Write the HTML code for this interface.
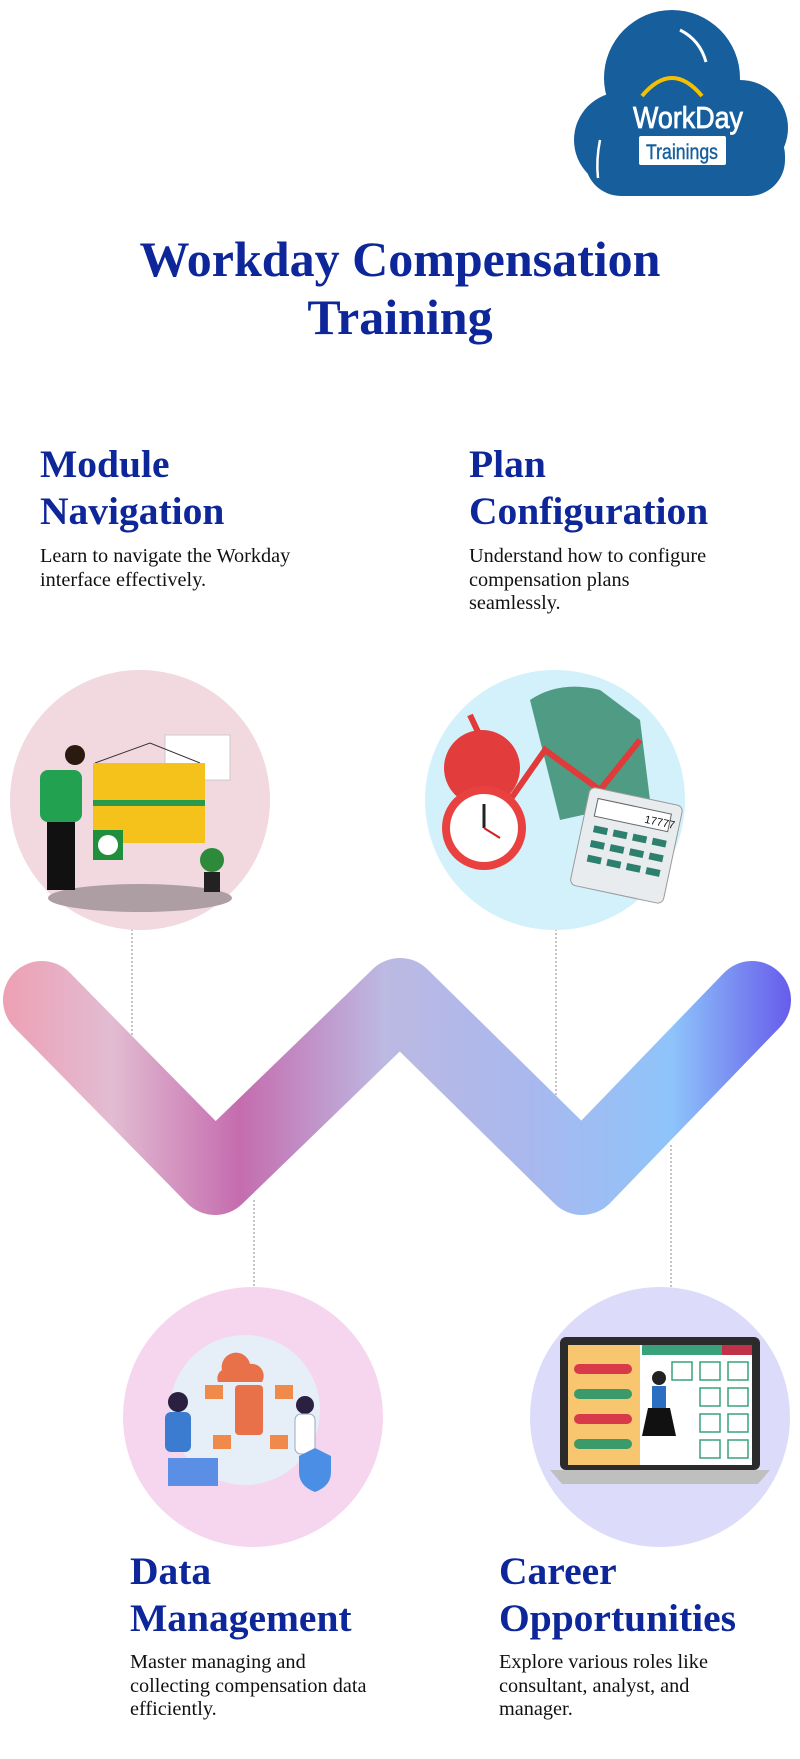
<!DOCTYPE html>
<html><head><meta charset="utf-8">
<style>
html,body{margin:0;padding:0;background:#fff;}
body{width:800px;height:1759px;position:relative;overflow:hidden;font-family:"Liberation Serif",serif;}
.t{position:absolute;color:#0d2699;font-weight:bold;}
.h{font-size:39.5px;line-height:47px;}
.d{position:absolute;font-size:20.3px;line-height:23.5px;color:#111;}
svg{position:absolute;left:0;top:0;}
</style></head><body>
<svg width="800" height="1759" viewBox="0 0 800 1759">
<defs>
<linearGradient id="wg" x1="0" y1="0" x2="800" y2="0" gradientUnits="userSpaceOnUse">
<stop offset="0" stop-color="#ee9fb3"/>
<stop offset="0.14" stop-color="#e2bcd2"/>
<stop offset="0.3" stop-color="#c56cae"/>
<stop offset="0.48" stop-color="#bcb9e2"/>
<stop offset="0.66" stop-color="#a9b8ee"/>
<stop offset="0.84" stop-color="#8ec4fa"/>
<stop offset="1" stop-color="#6454ea"/>
</linearGradient>
</defs>
<!-- logo -->
<g fill="#175e9d">
<circle cx="672" cy="78" r="68"/>
<circle cx="740" cy="128" r="48"/>
<circle cx="622" cy="140" r="48"/>
<rect x="585" y="120" width="200" height="76" rx="36"/>
<rect x="610" y="80" width="130" height="110"/>
</g>
<path d="M680 30 Q700 40 706 62" stroke="#fff" stroke-width="3" fill="none"/>
<path d="M600 140 Q596 160 598 178" stroke="#fff" stroke-width="2.5" fill="none"/>
<path d="M642 96 Q672 60 702 96" stroke="#f3c100" stroke-width="4" fill="none"/>
<text x="688" y="128" text-anchor="middle" font-family="Liberation Sans,sans-serif" font-size="31" fill="#fff" stroke="#fff" stroke-width="0.8" textLength="110" lengthAdjust="spacingAndGlyphs">WorkDay</text>
<rect x="639" y="136" width="87" height="29" rx="2" fill="#fff"/>
<text x="682" y="159" text-anchor="middle" font-family="Liberation Sans,sans-serif" font-size="21" fill="#175e9d" stroke="#175e9d" stroke-width="0.4" textLength="72" lengthAdjust="spacingAndGlyphs">Trainings</text>

<!-- dotted connectors -->
<g stroke="#888" stroke-width="1" stroke-dasharray="2,2">
<line x1="132" y1="925" x2="132" y2="1037"/>
<line x1="556" y1="925" x2="556" y2="1100"/>
<line x1="254" y1="1200" x2="254" y2="1292"/>
<line x1="671" y1="1145" x2="671" y2="1292"/>
</g>

<!-- circles -->
<circle cx="140" cy="800" r="130" fill="#f2d8df"/>
<circle cx="555" cy="800" r="130" fill="#d3f1fa"/>
<circle cx="253" cy="1417" r="130" fill="#f6d6ef"/>
<circle cx="660" cy="1417" r="130" fill="#dcdcfa"/>

<!-- left illustration -->
<ellipse cx="140" cy="898" rx="92" ry="14" fill="#ad9ea4"/>
<rect x="165" y="735" width="65" height="45" fill="#fff" stroke="#ccc"/>
<path d="M95 763 L150 743 L200 763" stroke="#333" fill="none"/>
<rect x="93" y="763" width="112" height="80" fill="#f4c21a"/>
<rect x="93" y="800" width="112" height="6" fill="#2a9a4a"/>
<rect x="93" y="830" width="30" height="30" fill="#1f8f3c"/>
<circle cx="108" cy="845" r="10" fill="#fff"/>
<circle cx="75" cy="755" r="10" fill="#2a1a10"/>
<rect x="40" y="770" width="42" height="52" rx="8" fill="#22a150"/>
<rect x="47" y="822" width="28" height="68" fill="#111"/>
<circle cx="212" cy="860" r="12" fill="#2c8a3a"/>
<rect x="204" y="872" width="16" height="20" fill="#222"/>

<!-- right top illustration -->
<path d="M530 700 Q560 680 600 690 L640 720 L650 800 L560 820 Z" fill="#4f9b83"/>
<path d="M470 715 L510 800 L545 750 L600 790 L640 740" stroke="#e03a3a" stroke-width="6" fill="none"/>
<circle cx="482" cy="768" r="38" fill="#e33c3c"/>
<circle cx="484" cy="828" r="42" fill="#e94040"/>
<circle cx="484" cy="828" r="34" fill="#fff"/>
<line x1="484" y1="828" x2="484" y2="804" stroke="#222" stroke-width="3"/>
<line x1="484" y1="828" x2="500" y2="838" stroke="#c22" stroke-width="2"/>
<g transform="rotate(12 625 840)">
<rect x="580" y="795" width="95" height="100" rx="6" fill="#e9ecef" stroke="#999"/>
<rect x="590" y="805" width="75" height="18" fill="#fff" stroke="#666"/>
<text x="640" y="819" font-family="Liberation Sans,sans-serif" font-size="11" fill="#111">17777</text>
<g fill="#2d7f6e"><rect x="592" y="832" width="14" height="7"/><rect x="612" y="832" width="14" height="7"/><rect x="632" y="832" width="14" height="7"/><rect x="652" y="832" width="14" height="7"/>
<rect x="592" y="847" width="14" height="7"/><rect x="612" y="847" width="14" height="7"/><rect x="632" y="847" width="14" height="7"/><rect x="652" y="847" width="14" height="7"/>
<rect x="592" y="862" width="14" height="7"/><rect x="612" y="862" width="14" height="7"/><rect x="632" y="862" width="14" height="7"/><rect x="652" y="862" width="14" height="7"/></g>
</g>

<!-- bottom-left illustration -->
<circle cx="245" cy="1410" r="75" fill="#e6eef8"/>
<path d="M222 1370 a14 14 0 0 1 28 -6 a12 12 0 0 1 12 18 h-44 a10 10 0 0 1 4 -12z" fill="#e8714a"/>
<rect x="235" y="1385" width="28" height="50" rx="4" fill="#e8714a"/>
<g fill="#f08a4b"><rect x="205" y="1385" width="18" height="14"/><rect x="275" y="1385" width="18" height="14"/><rect x="213" y="1435" width="18" height="14"/><rect x="270" y="1435" width="18" height="14"/></g>
<circle cx="178" cy="1402" r="10" fill="#2a2040"/>
<rect x="165" y="1412" width="26" height="40" rx="6" fill="#3b7bd0"/>
<rect x="168" y="1458" width="50" height="28" fill="#5b8fe6"/>
<circle cx="305" cy="1405" r="9" fill="#2a2040"/>
<rect x="295" y="1414" width="20" height="40" rx="6" fill="#fff" stroke="#9ab"/>
<path d="M315 1448 l16 8 v16 q0 14 -16 20 q-16 -6 -16 -20 v-16z" fill="#4a8ee6"/>

<!-- bottom-right illustration (laptop) -->
<rect x="560" y="1337" width="200" height="133" rx="6" fill="#2b2b2b"/>
<rect x="568" y="1345" width="184" height="120" fill="#fff"/>
<rect x="568" y="1345" width="72" height="120" fill="#f7c66e"/>
<rect x="642" y="1345" width="110" height="10" fill="#3aa27a"/>
<rect x="722" y="1345" width="30" height="10" fill="#c0324a"/>
<g fill="#d83a4a"><rect x="574" y="1364" width="58" height="10" rx="5"/><rect x="574" y="1414" width="58" height="10" rx="5"/></g>
<g fill="#3a9a6a"><rect x="574" y="1389" width="58" height="10" rx="5"/><rect x="574" y="1439" width="58" height="10" rx="5"/></g>
<g fill="none" stroke="#3aa27a" stroke-width="1.5">
<rect x="672" y="1362" width="20" height="18"/><rect x="700" y="1362" width="20" height="18"/><rect x="728" y="1362" width="20" height="18"/>
<rect x="700" y="1388" width="20" height="18"/><rect x="728" y="1388" width="20" height="18"/>
<rect x="700" y="1414" width="20" height="18"/><rect x="728" y="1414" width="20" height="18"/>
<rect x="700" y="1440" width="20" height="18"/><rect x="728" y="1440" width="20" height="18"/>
</g>
<circle cx="659" cy="1378" r="7" fill="#222"/>
<rect x="652" y="1386" width="14" height="22" fill="#2a6fc2"/>
<path d="M648 1408 h22 l6 28 h-34z" fill="#111"/>
<path d="M550 1470 h220 l-12 14 h-196z" fill="#bfbfbf"/>

<!-- W -->
<polyline points="42,1000 215,1176 400,997 582,1176 752,1000" fill="none" stroke="url(#wg)" stroke-width="78" stroke-linecap="round" stroke-linejoin="round"/>
</svg>

<div class="t" style="left:0;width:800px;top:230px;text-align:center;font-size:50px;line-height:58px;">Workday Compensation<br>Training</div>

<div class="t h" style="left:40px;top:441px;">Module<br>Navigation</div>
<div class="d" style="left:40px;top:545px;">Learn to navigate the Workday<br>interface effectively.</div>

<div class="t h" style="left:469px;top:441px;">Plan<br>Configuration</div>
<div class="d" style="left:469px;top:545px;">Understand how to configure<br>compensation plans<br>seamlessly.</div>

<div class="t h" style="left:130px;top:1548px;">Data<br>Management</div>
<div class="d" style="left:130px;top:1651px;">Master managing and<br>collecting compensation data<br>efficiently.</div>

<div class="t h" style="left:499px;top:1548px;">Career<br>Opportunities</div>
<div class="d" style="left:499px;top:1651px;">Explore various roles like<br>consultant, analyst, and<br>manager.</div>
</body></html>
